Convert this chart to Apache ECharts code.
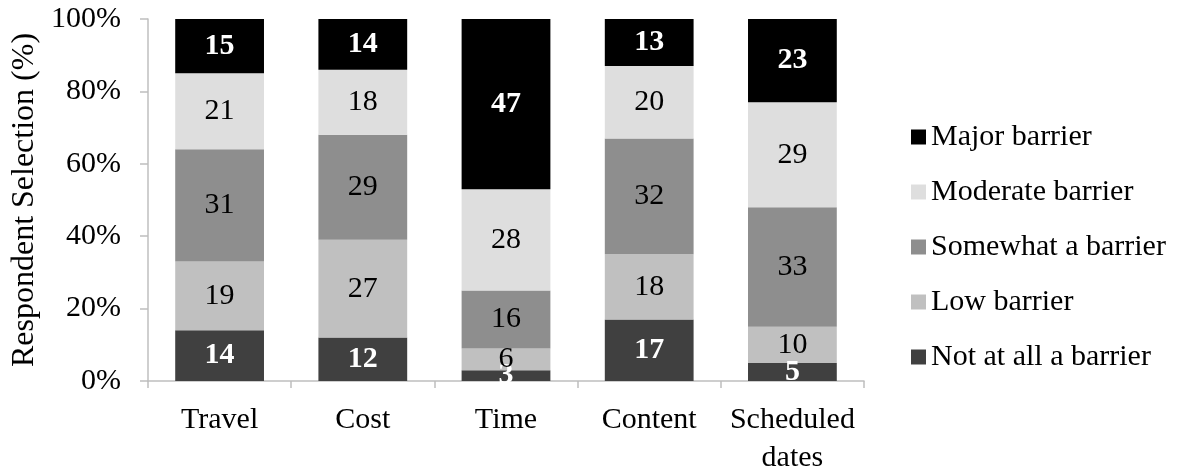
<!DOCTYPE html>
<html>
<head>
<meta charset="utf-8">
<script src="https://cdn.jsdelivr.net/npm/echarts@6/dist/echarts.min.js"></script>
<style>
  html, body { margin: 0; padding: 0; background: #fff; }
  #chart { width: 1182px; height: 470px; }
</style>
</head>
<body>
<div id="chart"></div>
<script>
// categories along the x axis
var categories = ['Travel', 'Cost', 'Time', 'Content', 'Scheduled\ndates'];
// stacked from bottom to top
var notAtAll = [14, 12, 3, 17, 5];
var low = [19, 27, 6, 18, 10];
var somewhat = [31, 29, 16, 32, 33];
var moderate = [21, 18, 28, 20, 29];
var major = [15, 14, 47, 13, 23];
var yTicks = [0, 20, 40, 60, 80, 100];

var serif = '"Liberation Serif", "Times New Roman", serif';

function makeSeries(name, data, color, dark) {
    return {
        name: name,
        type: 'bar',
        stack: 'all',
        barWidth: '62%',
        data: data,
        itemStyle: { color: color },
        label: {
            show: true,
            position: 'inside',
            fontFamily: serif,
            fontSize: 30,
            fontWeight: dark ? 'bold' : 'normal',
            color: dark ? '#ffffff' : '#000000'
        }
    };
}

var myChart = echarts.init(document.getElementById('chart'));
myChart.setOption({
    animation: false,
    grid: { left: 148, right: 318, top: 19, bottom: 89, outerBoundsMode: 'none', containLabel: false },
    legend: {
        orient: 'vertical',
        left: 906,
        top: 117,
        itemWidth: 15,
        itemHeight: 15,
        itemGap: 25,
        icon: 'rect',
        textStyle: { fontFamily: serif, fontSize: 30, color: '#000' },
        data: ['Major barrier', 'Moderate barrier', 'Somewhat a barrier', 'Low barrier', 'Not at all a barrier']
    },
    xAxis: {
        type: 'category',
        data: categories,
        axisLine: { lineStyle: { color: '#bfbfbf', width: 1.5 } },
        axisTick: { show: true, length: 7, lineStyle: { color: '#bfbfbf', width: 1.5 } },
        axisLabel: {
            interval: 0,
            fontFamily: serif, fontSize: 30, color: '#000',
            margin: 20, lineHeight: 38
        }
    },
    yAxis: {
        type: 'value',
        min: yTicks[0],
        max: yTicks[yTicks.length - 1],
        interval: 20,
        name: 'Respondent Selection (%)',
        nameLocation: 'middle',
        nameGap: 106,
        nameTextStyle: { fontFamily: serif, fontSize: 32, color: '#000' },
        axisLine: { show: true, lineStyle: { color: '#bfbfbf', width: 1.5 } },
        axisTick: { show: true, length: 8, lineStyle: { color: '#bfbfbf', width: 1.5 } },
        splitLine: { show: false },
        axisLabel: {
            fontFamily: serif, fontSize: 30, color: '#000', margin: 27,
            formatter: '{value}%'
        }
    },
    series: [
        makeSeries('Not at all a barrier', notAtAll, '#404040', true),
        makeSeries('Low barrier', low, '#c0c0c0', false),
        makeSeries('Somewhat a barrier', somewhat, '#8e8e8e', false),
        makeSeries('Moderate barrier', moderate, '#dedede', false),
        makeSeries('Major barrier', major, '#000000', true)
    ]
});
</script>
</body>
</html>
